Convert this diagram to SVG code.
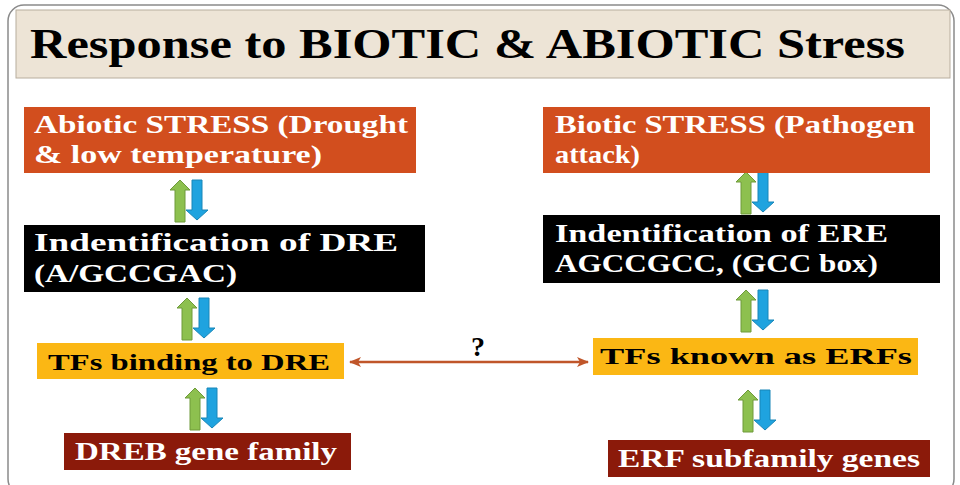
<svg xmlns="http://www.w3.org/2000/svg" width="960" height="485" viewBox="0 0 960 485">
<defs>
<style>
.t{font-family:"Liberation Serif",serif;font-weight:bold;}
.w{fill:#fff;font-size:25px;}
.k{fill:#000;font-size:24px;}
</style>
<g id="pair">
<path d="M0,0 L10,-10 L20,0 L15,0 L15,32 L5,32 L5,0 Z" fill="#8DC04F" stroke="#6E9A3A" stroke-width="1"/>
<path d="M22,-10 L32,-10 L32,20 L38,20 L27,30 L16,20 L22,20 Z" fill="#1FA3DF" stroke="#1886B8" stroke-width="1"/>
</g>
<marker id="ah" viewBox="0 0 12 10" refX="11" refY="5" markerWidth="12" markerHeight="10" orient="auto-start-reverse" markerUnits="userSpaceOnUse">
<path d="M0,0 L12,5 L0,10 L3,5 Z" fill="#C0562A"/>
</marker>
</defs>
<rect width="960" height="485" fill="#fff"/>
<rect x="8" y="5" width="946" height="490" rx="16" fill="none" stroke="#8A8A8A" stroke-width="1.5"/>
<g id="title">
<rect x="16" y="10" width="934" height="68" fill="#EDE4D6" stroke="#B8AE9E"/>
<text class="t" x="30" y="58" font-size="42" fill="#000" textLength="875" lengthAdjust="spacingAndGlyphs">Response to BIOTIC &amp; ABIOTIC Stress</text>
</g>
<g id="connectors">
<use href="#pair" transform="translate(170,190)"/>
<use href="#pair" transform="translate(177,308)"/>
<use href="#pair" transform="translate(185,398)"/>
<use href="#pair" transform="translate(736,182)"/>
<use href="#pair" transform="translate(736,300)"/>
<use href="#pair" transform="translate(738,400)"/>
<line x1="350" y1="362" x2="588" y2="362" stroke="#C0562A" stroke-width="2.5" marker-start="url(#ah)" marker-end="url(#ah)"/>
<text class="t" x="478" y="356" font-size="28" text-anchor="middle" fill="#000">?</text>
</g>
<g id="abiotic">
<rect x="24" y="107" width="392" height="66" fill="#D24E1E"/>
<text class="t w" x="34" y="133" textLength="374" lengthAdjust="spacingAndGlyphs">Abiotic STRESS (Drought</text>
<text class="t w" x="34" y="163" textLength="288" lengthAdjust="spacingAndGlyphs">&amp; low temperature)</text>
</g>
<g id="dre">
<rect x="24" y="225" width="401" height="67" fill="#000"/>
<text class="t w" x="34" y="251" textLength="364" lengthAdjust="spacingAndGlyphs">Indentification of DRE</text>
<text class="t w" x="34" y="282" textLength="203" lengthAdjust="spacingAndGlyphs">(A/GCCGAC)</text>
</g>
<g id="tfdre">
<rect x="37" y="343" width="307" height="36" fill="#FBB714"/>
<text class="t k" x="48" y="370" textLength="282" lengthAdjust="spacingAndGlyphs">TFs binding to DRE</text>
</g>
<g id="dreb">
<rect x="64" y="433" width="287" height="37" fill="#8B1A0A"/>
<text class="t w" x="75" y="460" textLength="262" lengthAdjust="spacingAndGlyphs">DREB gene family</text>
</g>
<g id="biotic">
<rect x="543" y="107" width="387" height="66" fill="#D24E1E"/>
<text class="t w" x="555" y="133" textLength="360" lengthAdjust="spacingAndGlyphs">Biotic STRESS (Pathogen</text>
<text class="t w" x="555" y="163" textLength="85" lengthAdjust="spacingAndGlyphs">attack)</text>
</g>
<g id="ere">
<rect x="543" y="215" width="397" height="68" fill="#000"/>
<text class="t w" x="555" y="242" textLength="333" lengthAdjust="spacingAndGlyphs">Indentification of  ERE</text>
<text class="t w" x="555" y="272" textLength="323" lengthAdjust="spacingAndGlyphs">AGCCGCC, (GCC box)</text>
</g>
<g id="tferf">
<rect x="593" y="338" width="325" height="37" fill="#FBB714"/>
<text class="t k" x="600" y="364" textLength="312" lengthAdjust="spacingAndGlyphs">TFs known as ERFs</text>
</g>
<g id="erf">
<rect x="608" y="440" width="322" height="37" fill="#8B1A0A"/>
<text class="t w" x="618" y="467" textLength="302" lengthAdjust="spacingAndGlyphs">ERF subfamily genes</text>
</g>
</svg>
